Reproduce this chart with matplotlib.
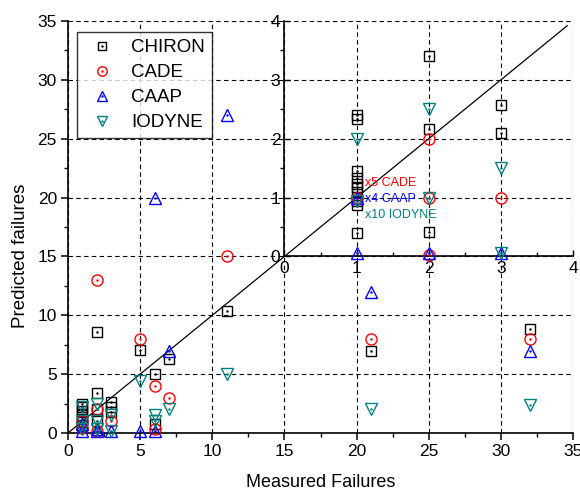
import matplotlib
matplotlib.use("Agg")
import matplotlib.pyplot as plt
from matplotlib.ticker import MultipleLocator
from matplotlib.lines import Line2D

plt.rcParams['font.family'] = ['Liberation Sans', 'DejaVu Sans']

# ---------------- data (main axes) ----------------
chiron_x = [1, 1, 1, 1, 1, 1, 1, 2, 2, 2, 2, 3, 3, 3, 5, 6, 6, 7, 11, 21, 32]
chiron_y = [2.5, 2.2, 1.9, 1.5, 1.2, 0.9, 0.6, 8.6, 3.4, 2.0, 1.0, 2.6, 2.2, 1.8, 7.05, 5.0, 0.8, 6.3, 10.4, 7.0, 8.8]

cade_x = [1, 1, 2, 2, 2, 3, 5, 6, 6, 7, 11, 21, 32]
cade_y = [1.0, 0.4, 13, 2.0, 0.2, 1.0, 8, 4, 0.3, 3, 15, 8, 8]

caap_x = [1, 1, 2, 2, 3, 5, 6, 6, 7, 11, 21, 32]
caap_y = [0.8, 0.2, 0.3, 0.2, 0.2, 0.2, 20, 0.2, 7, 27, 12, 7]

iodyne_x = [1, 1, 1, 2, 2, 2, 3, 3, 5, 6, 6, 7, 11, 21, 32]
iodyne_y = [2.2, 1.0, 0.3, 2.5, 1.0, 0.3, 1.5, 0.2, 4.4, 1.5, 1.0, 2.0, 5.0, 2.0, 2.4]

diag = [0, 34.6]

# ---------------- data (inset axes) ----------------
in_chiron_x = [1, 1, 1, 1, 1, 1, 1, 1, 1, 1, 2, 2, 2, 3, 3]
in_chiron_y = [2.41, 2.33, 1.45, 1.34, 1.23, 1.18, 1.09, 0.95, 0.88, 0.40, 3.41, 2.17, 0.41, 2.58, 2.09]

in_cade_x = [1, 2, 2, 3, 2]
in_cade_y = [1.0, 2.0, 1.0, 1.0, 0.02]

in_caap_x = [1, 1, 2, 3]
in_caap_y = [1.0, 0.06, 0.06, 0.06]

in_iodyne_x = [1, 2, 3, 2, 1, 3]
in_iodyne_y = [2.0, 2.5, 1.5, 1.0, 0.95, 0.06]

series_names = ['CHIRON', 'CADE', 'CAAP', 'IODYNE']
series_colors = ['#000000', '#ff0000', '#0000ff', '#008080']
series_markers = ['s', 'o', '^', 'v']
series_sizes = [7, 8, 9, 9]

scale_labels = ['x5 CADE', 'x4 CAAP', 'x10 IODYNE']
scale_colors = ['#ff0000', '#0000ff', '#008080']
scale_y = [1.24, 0.97, 0.70]
scale_x = 1.12

main_data = [(chiron_x, chiron_y), (cade_x, cade_y), (caap_x, caap_y), (iodyne_x, iodyne_y)]
inset_data = [(in_chiron_x, in_chiron_y), (in_cade_x, in_cade_y), (in_caap_x, in_caap_y), (in_iodyne_x, in_iodyne_y)]

fig = plt.figure(figsize=(5.8, 4.93), dpi=100)
ax = fig.add_axes([68/580, 1-433/493, (573-68)/580, (433-21)/493])

ax.set_xlim(0, 35)
ax.set_ylim(0, 35)
for s in ['top', 'right']:
    ax.spines[s].set_visible(False)
for s in ['left', 'bottom']:
    ax.spines[s].set_linewidth(1.2)
ax.xaxis.set_major_locator(MultipleLocator(5))
ax.yaxis.set_major_locator(MultipleLocator(5))
ax.xaxis.set_minor_locator(MultipleLocator(2.5))
ax.yaxis.set_minor_locator(MultipleLocator(2.5))
ax.tick_params(which='major', direction='out', length=5, width=1.1, labelsize=12.5, pad=3)
ax.tick_params(which='minor', direction='out', length=3, width=1.0)
ax.grid(True, which='major', linestyle=(0, (4, 3)), color='black', linewidth=0.8)
ax.set_axisbelow(True)
fig.canvas.draw()
for t in [ax.xaxis.get_major_ticks()[0], ax.xaxis.get_major_ticks()[-1],
          ax.yaxis.get_major_ticks()[0], ax.yaxis.get_major_ticks()[-1]]:
    t.gridline.set_visible(False)

ax.set_xlabel('Measured Failures', fontsize=13, labelpad=11)
ax.set_ylabel('Predicted failures', fontsize=13.5)
ax.yaxis.set_label_coords(-0.077, 0.43)

ax.plot(diag, diag, color='black', linewidth=0.9, zorder=2)

def draw(axis, data):
    for (xs, ys), c, m, ms in zip(data, series_colors, series_markers, series_sizes):
        axis.plot(xs, ys, linestyle='none', marker=m, markersize=ms,
                  markerfacecolor='none', markeredgecolor=c, markeredgewidth=1.0,
                  zorder=3, clip_on=False)
        axis.plot(xs, ys, linestyle='none', marker='.', markersize=1.5,
                  color=c, zorder=3, clip_on=False)

draw(ax, main_data)

# legend
handles = []
for c, m, ms in zip(series_colors, series_markers, series_sizes):
    h1 = Line2D([], [], linestyle='none', marker=m, markersize=ms*0.85,
                markerfacecolor='none', markeredgecolor=c, markeredgewidth=1.0)
    h2 = Line2D([], [], linestyle='none', marker='.', markersize=1.5, color=c)
    handles.append((h1, h2))
leg = ax.legend(handles, series_names, loc='upper left', bbox_to_anchor=(0.018, 0.973),
                borderaxespad=0, fontsize=13.5, frameon=True, fancybox=False,
                edgecolor='black', handlelength=1.9, handletextpad=0.6,
                labelspacing=0.42, borderpad=0.38)
leg.get_frame().set_linewidth(1.0)
leg.set_zorder(10)

# inset axes
ins = ax.inset_axes([15, 15, 20, 20], transform=ax.transData)
ins.set_facecolor('none')
ins.set_xlim(0, 4)
ins.set_ylim(0, 4)
for s in ['top', 'right']:
    ins.spines[s].set_visible(False)
for s in ['left', 'bottom']:
    ins.spines[s].set_linewidth(1.2)
ins.xaxis.set_major_locator(MultipleLocator(1))
ins.yaxis.set_major_locator(MultipleLocator(1))
ins.xaxis.set_minor_locator(MultipleLocator(0.5))
ins.yaxis.set_minor_locator(MultipleLocator(0.5))
ins.tick_params(which='major', direction='in', length=4, width=1.0, labelsize=12.5, pad=3)
ins.tick_params(which='minor', direction='in', length=3, width=1.0)
ins.tick_params(axis='y', which='minor', direction='out')

draw(ins, inset_data)

for lab, c, yy in zip(scale_labels, scale_colors, scale_y):
    ins.text(scale_x, yy, lab, color=c, fontsize=9, ha='left', va='center', zorder=6)

fig.savefig('out.png', dpi=100)
